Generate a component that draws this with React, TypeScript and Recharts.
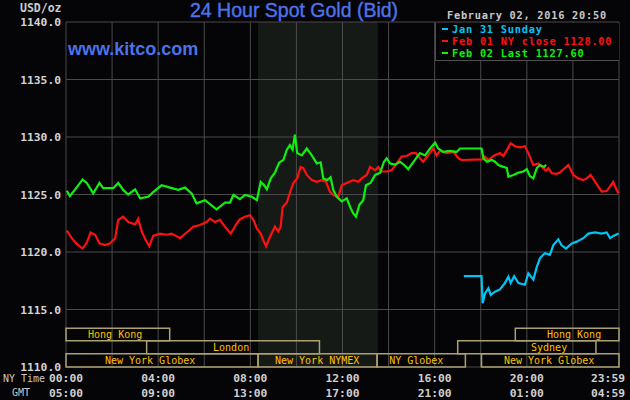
import React from "react";
import {
  ComposedChart,
  Line,
  XAxis,
  YAxis,
  CartesianGrid,
  ReferenceArea,
} from "recharts";

// minutes after midnight (NY time) / price in USD
const feb02Last = [
  { t: 2, p: 1125.33 }, { t: 10, p: 1124.87 }, { t: 23, p: 1125.4 }, { t: 43, p: 1126.3 },
  { t: 54, p: 1126.0 }, { t: 71, p: 1125.1 }, { t: 87, p: 1126.0 }, { t: 97, p: 1125.55 },
  { t: 123, p: 1125.55 }, { t: 136, p: 1126.0 }, { t: 149, p: 1125.4 }, { t: 162, p: 1125.0 },
  { t: 180, p: 1125.45 }, { t: 193, p: 1124.67 }, { t: 214, p: 1124.8 }, { t: 227, p: 1125.2 },
  { t: 249, p: 1125.8 }, { t: 271, p: 1125.6 }, { t: 292, p: 1125.4 }, { t: 310, p: 1125.6 },
  { t: 327, p: 1125.1 }, { t: 340, p: 1124.23 }, { t: 362, p: 1124.5 }, { t: 392, p: 1123.7 },
  { t: 414, p: 1124.3 }, { t: 427, p: 1124.3 }, { t: 436, p: 1124.96 }, { t: 453, p: 1124.6 },
  { t: 466, p: 1124.96 }, { t: 484, p: 1124.8 }, { t: 497, p: 1124.5 }, { t: 507, p: 1126.1 },
  { t: 516, p: 1125.8 }, { t: 523, p: 1125.45 }, { t: 533, p: 1126.4 }, { t: 544, p: 1126.9 },
  { t: 555, p: 1127.77 }, { t: 566, p: 1128.0 }, { t: 575, p: 1128.9 }, { t: 583, p: 1129.3 },
  { t: 590, p: 1128.9 }, { t: 596, p: 1130.2 }, { t: 602, p: 1128.6 }, { t: 614, p: 1128.4 },
  { t: 627, p: 1129.0 }, { t: 640, p: 1128.4 }, { t: 653, p: 1127.7 }, { t: 663, p: 1127.8 },
  { t: 670, p: 1126.4 }, { t: 680, p: 1126.25 }, { t: 689, p: 1126.5 }, { t: 696, p: 1125.4 },
  { t: 705, p: 1124.8 }, { t: 718, p: 1124.4 }, { t: 731, p: 1124.67 }, { t: 740, p: 1123.9 },
  { t: 748, p: 1123.35 }, { t: 755, p: 1123.07 }, { t: 764, p: 1124.1 }, { t: 774, p: 1124.5 },
  { t: 781, p: 1125.8 }, { t: 793, p: 1126.0 }, { t: 805, p: 1126.7 }, { t: 818, p: 1126.9 },
  { t: 828, p: 1127.85 }, { t: 835, p: 1128.15 }, { t: 844, p: 1127.7 }, { t: 857, p: 1127.6 },
  { t: 870, p: 1127.85 }, { t: 883, p: 1127.5 }, { t: 891, p: 1127.2 }, { t: 904, p: 1127.8 },
  { t: 917, p: 1128.4 }, { t: 922, p: 1128.6 }, { t: 935, p: 1128.4 }, { t: 948, p: 1129.0 },
  { t: 961, p: 1129.5 }, { t: 969, p: 1129.0 }, { t: 982, p: 1128.7 }, { t: 1000, p: 1128.8 },
  { t: 1017, p: 1128.7 }, { t: 1026, p: 1129.0 }, { t: 1082, p: 1129.0 }, { t: 1087, p: 1128.15 },
  { t: 1096, p: 1127.85 }, { t: 1109, p: 1128.0 }, { t: 1117, p: 1127.85 }, { t: 1126, p: 1127.56 },
  { t: 1139, p: 1127.4 }, { t: 1148, p: 1127.3 }, { t: 1152, p: 1126.55 }, { t: 1165, p: 1126.7 },
  { t: 1178, p: 1126.9 }, { t: 1191, p: 1127.0 }, { t: 1200, p: 1127.2 }, { t: 1208, p: 1126.6 },
  { t: 1217, p: 1126.4 }, { t: 1226, p: 1127.3 }, { t: 1234, p: 1127.56 }, { t: 1245, p: 1127.4 },
  { t: 1250, p: 1127.6 },
];

const feb01Close = [
  { t: 2, p: 1121.85 }, { t: 15, p: 1121.2 }, { t: 28, p: 1120.7 }, { t: 43, p: 1120.3 },
  { t: 54, p: 1120.8 }, { t: 64, p: 1121.7 }, { t: 76, p: 1121.5 }, { t: 87, p: 1120.75 },
  { t: 102, p: 1120.6 }, { t: 115, p: 1120.75 }, { t: 128, p: 1121.2 }, { t: 136, p: 1122.8 },
  { t: 149, p: 1123.07 }, { t: 162, p: 1122.6 }, { t: 180, p: 1122.4 }, { t: 188, p: 1122.9 },
  { t: 197, p: 1121.8 }, { t: 208, p: 1121.0 }, { t: 217, p: 1120.5 }, { t: 227, p: 1121.4 },
  { t: 245, p: 1121.6 }, { t: 262, p: 1121.5 }, { t: 275, p: 1121.6 }, { t: 297, p: 1121.2 },
  { t: 318, p: 1121.8 }, { t: 331, p: 1122.2 }, { t: 349, p: 1122.35 }, { t: 366, p: 1122.6 },
  { t: 375, p: 1122.9 }, { t: 388, p: 1122.6 }, { t: 401, p: 1122.8 }, { t: 414, p: 1122.2 },
  { t: 429, p: 1121.6 }, { t: 445, p: 1122.5 }, { t: 453, p: 1122.85 }, { t: 466, p: 1123.07 },
  { t: 479, p: 1123.2 }, { t: 488, p: 1122.8 }, { t: 497, p: 1122.05 }, { t: 507, p: 1121.6 },
  { t: 514, p: 1121.0 }, { t: 521, p: 1120.5 }, { t: 531, p: 1121.3 }, { t: 544, p: 1122.2 },
  { t: 553, p: 1121.8 }, { t: 559, p: 1122.2 }, { t: 564, p: 1123.9 }, { t: 575, p: 1124.3 },
  { t: 583, p: 1125.15 }, { t: 592, p: 1126.0 }, { t: 602, p: 1126.4 }, { t: 611, p: 1127.4 },
  { t: 618, p: 1127.3 }, { t: 627, p: 1126.7 }, { t: 640, p: 1126.25 }, { t: 653, p: 1126.1 },
  { t: 666, p: 1126.25 }, { t: 677, p: 1126.1 }, { t: 687, p: 1125.25 }, { t: 696, p: 1124.96 },
  { t: 709, p: 1124.8 }, { t: 718, p: 1125.8 }, { t: 731, p: 1126.0 }, { t: 748, p: 1126.25 },
  { t: 761, p: 1126.1 }, { t: 770, p: 1126.4 }, { t: 783, p: 1126.7 }, { t: 792, p: 1127.4 },
  { t: 805, p: 1127.1 }, { t: 813, p: 1127.4 }, { t: 822, p: 1127.0 }, { t: 835, p: 1127.0 },
  { t: 848, p: 1127.1 }, { t: 861, p: 1127.7 }, { t: 874, p: 1128.3 }, { t: 887, p: 1128.35 },
  { t: 900, p: 1128.6 }, { t: 911, p: 1128.6 }, { t: 922, p: 1128.15 }, { t: 930, p: 1127.85 },
  { t: 943, p: 1128.4 }, { t: 956, p: 1129.0 }, { t: 965, p: 1128.4 }, { t: 974, p: 1128.8 },
  { t: 991, p: 1128.6 }, { t: 1009, p: 1128.7 }, { t: 1022, p: 1128.15 }, { t: 1030, p: 1128.0 },
  { t: 1085, p: 1128.05 }, { t: 1091, p: 1128.3 }, { t: 1100, p: 1128.0 }, { t: 1113, p: 1128.35 },
  { t: 1130, p: 1128.6 }, { t: 1139, p: 1128.35 }, { t: 1152, p: 1129.1 }, { t: 1158, p: 1129.45 },
  { t: 1169, p: 1129.2 }, { t: 1182, p: 1129.1 }, { t: 1195, p: 1129.2 }, { t: 1204, p: 1128.6 },
  { t: 1217, p: 1127.56 }, { t: 1230, p: 1127.7 }, { t: 1239, p: 1127.4 }, { t: 1250, p: 1127.07 },
  { t: 1256, p: 1127.3 }, { t: 1265, p: 1126.85 }, { t: 1278, p: 1126.8 }, { t: 1286, p: 1126.9 },
  { t: 1299, p: 1127.3 }, { t: 1308, p: 1127.56 }, { t: 1321, p: 1126.7 }, { t: 1334, p: 1126.4 },
  { t: 1347, p: 1126.25 }, { t: 1356, p: 1126.4 }, { t: 1366, p: 1126.7 }, { t: 1378, p: 1126.1 },
  { t: 1395, p: 1125.25 }, { t: 1408, p: 1125.3 }, { t: 1417, p: 1125.7 }, { t: 1425, p: 1126.1 },
  { t: 1434, p: 1125.4 }, { t: 1439, p: 1125.1 },
];

const jan31Sunday = [
  { t: 1036, p: 1117.9 }, { t: 1082, p: 1117.9 }, { t: 1085, p: 1115.55 }, { t: 1091, p: 1116.4 },
  { t: 1100, p: 1116.85 }, { t: 1106, p: 1116.26 }, { t: 1117, p: 1116.55 }, { t: 1130, p: 1116.75 },
  { t: 1143, p: 1117.3 }, { t: 1152, p: 1117.85 }, { t: 1158, p: 1117.3 }, { t: 1167, p: 1117.9 },
  { t: 1178, p: 1117.3 }, { t: 1195, p: 1117.15 }, { t: 1204, p: 1118.15 }, { t: 1217, p: 1117.6 },
  { t: 1226, p: 1118.7 }, { t: 1234, p: 1119.45 }, { t: 1247, p: 1119.9 }, { t: 1260, p: 1119.75 },
  { t: 1269, p: 1120.6 }, { t: 1282, p: 1121.1 }, { t: 1290, p: 1120.6 }, { t: 1302, p: 1120.3 },
  { t: 1317, p: 1120.75 }, { t: 1330, p: 1120.9 }, { t: 1347, p: 1121.2 }, { t: 1360, p: 1121.6 },
  { t: 1378, p: 1121.7 }, { t: 1395, p: 1121.6 }, { t: 1408, p: 1121.7 }, { t: 1417, p: 1121.2 },
  { t: 1425, p: 1121.4 }, { t: 1439, p: 1121.6 },
];

const priceTicks = [1110, 1115, 1120, 1125, 1130, 1135, 1140];
const gridTicks = [0, 120, 240, 360, 480, 600, 720, 840, 960, 1080, 1200, 1320, 1440];
const labelTicks = [0, 240, 480, 720, 960, 1200, 1440];
const nyLabels = ["00:00", "04:00", "08:00", "12:00", "16:00", "20:00", "23:59"];
const gmtLabels = ["05:00", "09:00", "13:00", "17:00", "21:00", "01:00", "04:59"];

// trading sessions (minutes, NY time)
const sessionNames = ["Hong Kong", "London", "New York Globex", "New York NYMEX", "NY Globex", "Sydney", "Hong Kong", "New York Globex"];
const sessionStart = [0, 210, 0, 500, 810, 1020, 1170, 1082];
const sessionEnd = [270, 660, 500, 810, 1040, 1380, 1440, 1440];
const sessionRow = [0, 1, 2, 2, 2, 1, 0, 2];
const sessionLabelAt = [128, 430, 219, 654, 912, 1258, 1323, 1258];

const nymexHours = [500, 812];

// price bands for the three session rows
const ROW_BANDS = [
  [1112.28, 1113.38],
  [1111.16, 1112.28],
  [1110.0, 1111.16],
];

const MONO = "'DejaVu Sans Mono', monospace";
const SANS = "'Liberation Sans', Arial, sans-serif";
const BG = "#050508";

const TimeTick = (props: any) => {
  const { x, y, payload } = props;
  const i = labelTicks.indexOf(payload.value);
  if (i < 0) return <g />;
  const dx = i === labelTicks.length - 1 ? -11 : 0;
  const style = { fontFamily: MONO, fontSize: 11.3, fontWeight: "bold" as const, fill: "#d0d0d0" };
  return (
    <g>
      <text x={x + dx} y={y + 15} textAnchor="middle" style={style}>
        {nyLabels[i]}
      </text>
      <text x={x + dx} y={y + 30} textAnchor="middle" style={style}>
        {gmtLabels[i]}
      </text>
    </g>
  );
};

const sessionLabel = (i: number) => (props: any) => {
  const vb = props.viewBox || {};
  const frac = (sessionLabelAt[i] - sessionStart[i]) / (sessionEnd[i] - sessionStart[i]);
  const cx = vb.x + vb.width * frac;
  const cy = vb.y + vb.height / 2;
  return (
    <text
      x={cx}
      y={cy + 3.6}
      textAnchor="middle"
      style={{ fontFamily: MONO, fontSize: 10, fill: "#ffc000" }}
    >
      {sessionNames[i]}
    </text>
  );
};

const legendItems = [
  { label: "Jan 31 Sunday", color: "#00c4f4" },
  { label: "Feb 01 NY close 1128.00", color: "#ff1010" },
  { label: "Feb 02 Last 1127.60", color: "#10f010" },
];

export default function App() {
  return (
    <div
      style={{
        position: "fixed",
        left: 0,
        top: 0,
        width: 630,
        height: 400,
        background: BG,
        overflow: "hidden",
      }}
    >
      <ComposedChart width={630} height={400} margin={{ top: 22, right: 11, bottom: 0, left: 0 }}>
        <ReferenceArea
          x1={nymexHours[0]}
          x2={nymexHours[1]}
          y1={1110}
          y2={1140}
          fill="#1a1e1a"
          fillOpacity={0.85}
          stroke="none"
          zIndex={-150}
        />
        <CartesianGrid stroke="#4a4a4a" strokeWidth={1} />
        <XAxis
          dataKey="t"
          type="number"
          domain={[0, 1440]}
          ticks={gridTicks}
          axisLine={false}
          tickLine={false}
          tickSize={0}
          tickMargin={0}
          height={33}
          tick={<TimeTick />}
          interval={0}
        />
        <YAxis
          dataKey="p"
          type="number"
          domain={[1110, 1140]}
          ticks={priceTicks}
          width={66}
          axisLine={false}
          tickLine={false}
          tickSize={0}
          tickMargin={5}
          tickFormatter={(v: number) => v.toFixed(1)}
          tick={{ fill: "#d4d4d4", fontFamily: MONO, fontSize: 11.3, fontWeight: "bold" }}
          interval={0}
        />
        {sessionNames.map((name, i) => (
          <ReferenceArea
            key={name + i}
            x1={sessionStart[i]}
            x2={sessionEnd[i]}
            y1={ROW_BANDS[sessionRow[i]][0]}
            y2={ROW_BANDS[sessionRow[i]][1]}
            fill="none"
            fillOpacity={0}
            stroke="#aaa070"
            strokeWidth={1.5}
            label={sessionLabel(i)}
          />
        ))}
        <Line
          data={jan31Sunday}
          dataKey="p"
          type="linear"
          stroke="#00c4f4"
          strokeWidth={2.2}
          dot={false}
          isAnimationActive={false}
        />
        <Line
          data={feb01Close}
          dataKey="p"
          type="linear"
          stroke="#ff1010"
          strokeWidth={2.2}
          dot={false}
          isAnimationActive={false}
        />
        <Line
          data={feb02Last}
          dataKey="p"
          type="linear"
          stroke="#10f010"
          strokeWidth={2.2}
          dot={false}
          isAnimationActive={false}
        />
      </ComposedChart>

      {/* titles */}
      <div
        style={{
          position: "absolute",
          left: 190,
          top: 0,
          lineHeight: "20px",
          fontFamily: SANS,
          fontSize: 19.5,
          color: "#4d72ea",
          WebkitTextStroke: "0.4px #4d72ea",
          whiteSpace: "nowrap",
        }}
      >
        24 Hour Spot Gold (Bid)
      </div>
      <div
        style={{
          position: "absolute",
          left: 68,
          top: 39,
          lineHeight: "20px",
          fontFamily: SANS,
          fontSize: 18,
          fontWeight: "bold",
          color: "#4d72ea",
          whiteSpace: "nowrap",
        }}
      >
        www.kitco.com
      </div>
      <div
        style={{
          position: "absolute",
          left: 20,
          top: 1,
          lineHeight: "14px",
          fontFamily: MONO,
          fontSize: 11.5,
          fontWeight: "bold",
          color: "#cccccc",
        }}
      >
        USD/oz
      </div>
      <div
        style={{
          position: "absolute",
          left: 447,
          top: 8.5,
          lineHeight: "12px",
          fontFamily: MONO,
          fontSize: 10.3,
          letterSpacing: 0.75,
          fontWeight: "bold",
          color: "#c8c8c8",
          whiteSpace: "nowrap",
        }}
      >
        February 02, 2016 20:50
      </div>

      {/* axis captions */}
      <div
        style={{
          position: "absolute",
          left: 3,
          top: 373,
          lineHeight: "12px",
          fontFamily: MONO,
          fontSize: 10,
          color: "#c8c8c8",
          whiteSpace: "nowrap",
        }}
      >
        NY Time
      </div>
      <div
        style={{
          position: "absolute",
          left: 12,
          top: 387,
          lineHeight: "12px",
          fontFamily: MONO,
          fontSize: 10,
          color: "#c8c8c8",
        }}
      >
        GMT
      </div>

      {/* legend */}
      <div
        style={{
          position: "absolute",
          left: 435,
          top: 23,
          width: 183,
          height: 37,
          background: BG,
          borderLeft: "1px solid #505050",
          borderBottom: "1px solid #505050",
        }}
      >
        {legendItems.map((item) => (
          <div
            key={item.label}
            style={{
              display: "flex",
              alignItems: "center",
              height: 12,
              lineHeight: "12px",
              fontFamily: MONO,
              fontSize: 10.3,
              letterSpacing: 0.77,
              fontWeight: "bold",
              color: item.color,
              whiteSpace: "nowrap",
            }}
          >
            <span
              style={{
                display: "inline-block",
                width: 6,
                height: 2,
                marginLeft: 6,
                marginRight: 4,
                background: item.color,
              }}
            />
            <span>{item.label}</span>
          </div>
        ))}
      </div>
    </div>
  );
}
